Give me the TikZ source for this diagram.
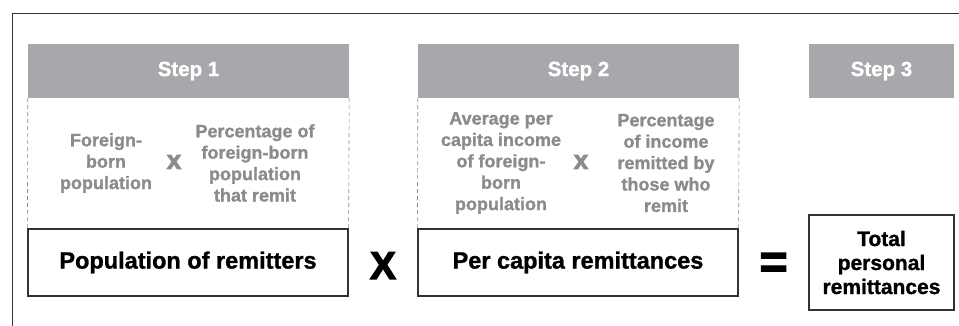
\documentclass[tikz,border=0pt]{standalone}
\usepackage{fontspec}
\setmainfont{Liberation Sans}
\newfontface\heavyfont[FakeBold=3]{Liberation Sans Bold}
\newfontface\semiheavy[FakeBold=1.2]{Liberation Sans Bold}
\definecolor{hdrgray}{HTML}{A7A8AB}
\definecolor{txtgray}{HTML}{8A8B8E}
\definecolor{linegray}{HTML}{333333}
\begin{document}
\begin{tikzpicture}[x=1pt,y=-1pt,
  hdr/.style={fill=hdrgray,text=white,font=\semiheavy\fontsize{20.5}{24}\selectfont,minimum height=54pt,inner sep=0pt},
  mainbox/.style={draw=linegray,line width=1.2pt,font=\semiheavy\fontsize{23.5}{27}\selectfont,minimum height=67pt,inner sep=0pt},
  graytxt/.style={text=txtgray,font=\semiheavy\fontsize{18}{21.4}\selectfont,align=center,inner sep=0pt},
  dashline/.style={draw=txtgray,line width=0.6pt,dash pattern=on 4pt off 3pt},
  op/.style={inner sep=0pt}
]
\useasboundingbox (0,0) rectangle (959,325);
\draw[draw=linegray,line width=0.9pt] (12,13) rectangle (990,360);
% headers
\node[hdr,minimum width=321pt] (h1) at (188.5,71) {Step 1};
\node[hdr,minimum width=321pt] (h2) at (578.5,71) {Step 2};
\node[hdr,minimum width=145pt] (h3) at (881.5,71) {Step 3};
% main boxes
\node[mainbox,minimum width=320pt] (b1) at (188,262.5) {Population of remitters};
\node[mainbox,minimum width=320pt] (b2) at (578,262.5) {Per capita remittances};
\node[mainbox,minimum width=145pt,minimum height=95pt,align=center,font=\semiheavy\fontsize{21}{24}\selectfont] (b3) at (881.5,262.5) {Total\\personal\\remittances};
% dashed sides
\draw[dashline] (h1.south west) -- (b1.north west);
\draw[dashline] (h1.south east) -- (b1.north east);
\draw[dashline] (h2.south west) -- (b2.north west);
\draw[dashline] (h2.south east) -- (b2.north east);
% step 1 contents
\node[graytxt] (s1a) at (106,163) {Foreign-\\born\\population};
\node[op,text=txtgray,font=\heavyfont\fontsize{26}{28}\selectfont] (s1x) at (174,162) {x};
\node[graytxt] (s1b) at (255,163) {Percentage of\\foreign-born\\population\\that remit};
% step 2 contents
\node[graytxt] (s2a) at (501,163) {Average per\\capita income\\of foreign-\\born\\population};
\node[op,text=txtgray,font=\heavyfont\fontsize{26}{28}\selectfont] (s2x) at (581,162) {x};
\node[graytxt] (s2b) at (666,163) {Percentage\\of income\\remitted by\\those who\\remit};
% operators
\node[op,font=\heavyfont\fontsize{39}{40}\selectfont] (bx) at (383,265.5) {X};
\node[op,font=\heavyfont\fontsize{48}{50}\selectfont] (eq) at (773.5,265.5) {=};
\end{tikzpicture}
\end{document}
